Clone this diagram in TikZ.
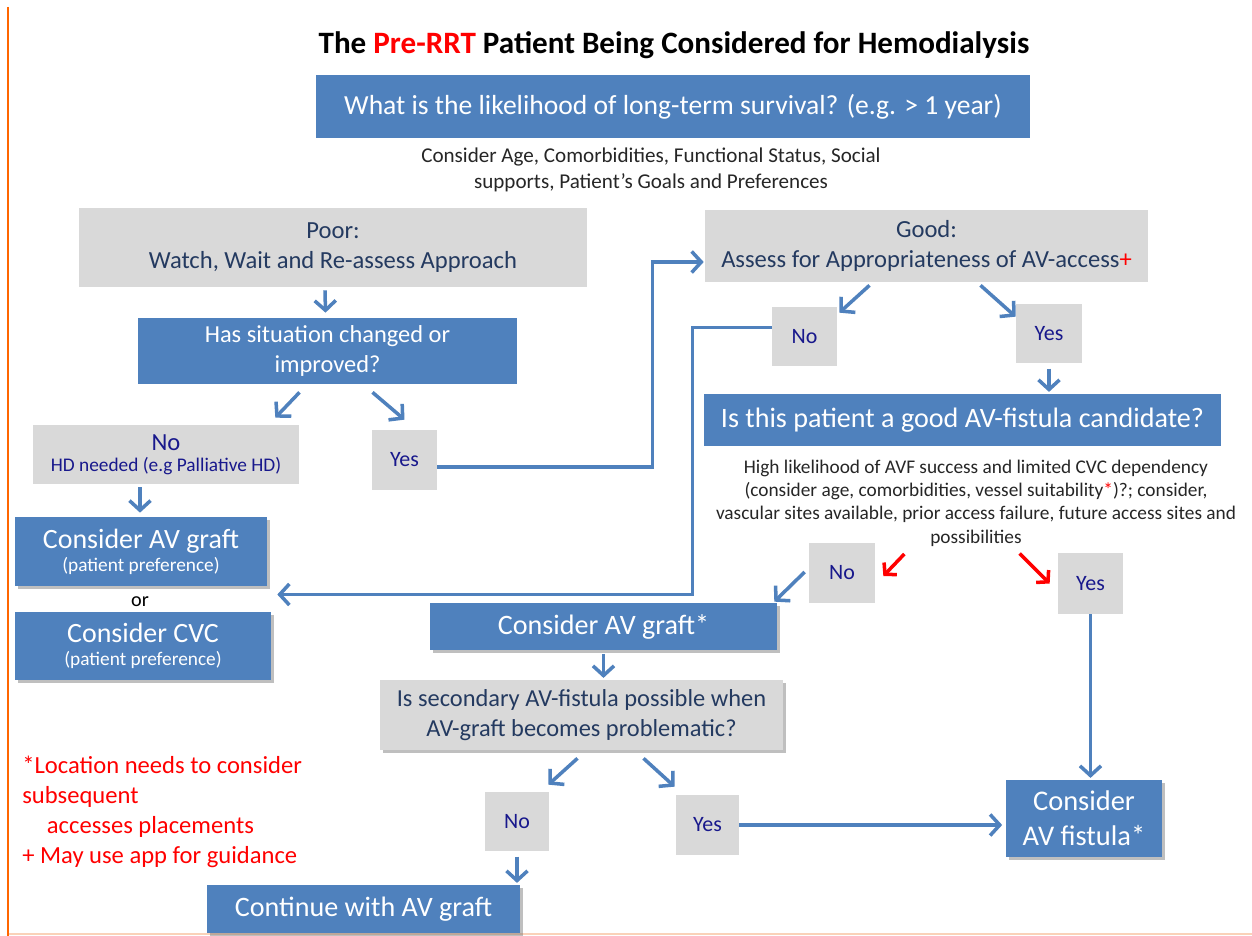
\documentclass[tikz,border=0pt]{standalone}
\usepackage{fontspec}
\setmainfont{Carlito}
\usetikzlibrary{arrows.meta,calc,shadows}
\definecolor{bx}{RGB}{79,129,189}
\definecolor{gr}{RGB}{217,217,217}
\definecolor{slate}{RGB}{36,58,96}
\definecolor{navy}{RGB}{24,24,140}
\definecolor{org}{RGB}{255,102,0}
\definecolor{peach}{RGB}{250,210,185}
\newcommand{\fsz}[1]{\fontsize{#1}{18}\selectfont}
\begin{document}
\begin{tikzpicture}[x=0.02cm,y=-0.02cm,
  bluebox/.style={fill=bx, text=white, inner sep=0pt, align=center},
  graybox/.style={fill=gr, text=slate, inner sep=0pt, align=center},
  ynbox/.style={fill=gr, text=navy, inner sep=0pt, align=center, font=\fontsize{12.5}{15}\selectfont},
  shad/.style={drop shadow={shadow xshift=1.8pt,shadow yshift=-1.8pt,opacity=0.45,fill=black!55}},
  arr/.style={draw=bx, line width=2pt, -{Straight Barb[length=5.5pt,width=12pt]}},
  rarr/.style={draw=red, line width=2pt, -{Straight Barb[length=4.5pt,width=10pt]}},
  plain/.style={inner sep=0pt, align=center}]
\useasboundingbox (0,0) rectangle (1252,936);
\fill[white] (0,0) rectangle (1252,936);
\draw[org, line width=1.7pt] (8,7) -- (8,936);
\draw[peach, line width=1pt] (9,934) -- (1252,934);

% title
\node[plain, font=\bfseries\fontsize{17.7}{21}\selectfont] (title) at (674,45) {The \textcolor{red}{Pre-RRT} Patient Being Considered for Hemodialysis};

\node[bluebox, minimum width=14.28cm, minimum height=1.26cm, font=\fsz{15.7}] (q1) at (673,106.5) {What is the likelihood of long-term survival? (e.g. > 1 year)};
\node[plain, text=black!85, font=\fontsize{12}{15}\selectfont] (consider) at (651,170) {Consider Age, Comorbidities, Functional Status, Social\\supports, Patient’s Goals and Preferences};

\node[graybox, minimum width=10.16cm, minimum height=1.58cm, font=\fontsize{14}{17}\selectfont] (poor) at (333,247.5) {Poor:\\Watch, Wait and Re-assess Approach};
\node[graybox, minimum width=8.86cm, minimum height=1.44cm, font=\fontsize{14}{17}\selectfont] (good) at (926.5,246) {Good:\\Assess for Appropriateness of AV-access\textcolor{red}{+}};

\node[bluebox, minimum width=7.58cm, minimum height=1.32cm, font=\fontsize{13.9}{17}\selectfont] (has) at (327.5,351) {Has situation changed or\\improved?};

\node[ynbox, minimum width=5.32cm, minimum height=1.18cm, font=\fontsize{11}{13}\selectfont] (noL) at (166,454.5) {{\fontsize{14}{16}\selectfont No}\\[-1pt]HD needed (e.g Palliative HD)};
\node[ynbox, minimum width=1.3cm, minimum height=1.2cm] (yesL) at (404.5,460) {Yes};

\node[bluebox, shad, minimum width=5.04cm, minimum height=1.38cm, font=\fontsize{11}{13}\selectfont] (avgL) at (141,551.5) {{\fontsize{15.9}{18}\selectfont Consider AV graft}\\(patient preference)};
\node[plain, font=\fontsize{11.5}{13}\selectfont] (or) at (140,602) {or};
\node[bluebox, shad, minimum width=5.12cm, minimum height=1.36cm, font=\fontsize{11}{13}\selectfont] (cvc) at (143,646) {{\fontsize{15.9}{18}\selectfont Consider CVC}\\(patient preference)};

\node[ynbox, minimum width=1.3cm, minimum height=1.18cm] (noR) at (804.5,336.5) {No};
\node[ynbox, minimum width=1.32cm, minimum height=1.18cm] (yesR) at (1049,333.5) {Yes};

\node[bluebox, minimum width=10.34cm, minimum height=1.04cm, font=\fsz{16}] (fist) at (962.5,420) {Is this patient a good AV-fistula candidate?};
\node[plain, text=black!85, font=\fontsize{11}{13.3}\selectfont] (hl) at (976,503) {High likelihood of AVF success and limited CVC dependency\\(consider age, comorbidities, vessel suitability\textcolor{red}{*})?; consider,\\vascular sites available, prior access failure, future access sites and\\possibilities};

\node[ynbox, minimum width=1.32cm, minimum height=1.2cm] (noR2) at (842,573) {No};
\node[ynbox, minimum width=1.3cm, minimum height=1.22cm] (yesR2) at (1090.5,583.5) {Yes};

\node[bluebox, shad, minimum width=6.94cm, minimum height=0.94cm, font=\fsz{16}] (avg2) at (603.5,626.5) {Consider AV graft*};
\node[graybox, shad, minimum width=8.06cm, minimum height=1.4cm, font=\fontsize{13.9}{17}\selectfont] (sec) at (581.5,715) {Is secondary AV-fistula possible when\\AV-graft becomes problematic?};

\node[ynbox, minimum width=1.28cm, minimum height=1.18cm] (no3) at (517,821.5) {No};
\node[ynbox, minimum width=1.26cm, minimum height=1.2cm] (yes3) at (707.5,825) {Yes};

\node[bluebox, shad, minimum width=6.26cm, minimum height=0.96cm, font=\fsz{16}] (cont) at (363.5,909) {Continue with AV graft};
\node[bluebox, shad, minimum width=3.12cm, minimum height=1.54cm, font=\fontsize{16.2}{20}\selectfont] (avf) at (1084,818.5) {Consider\\AV fistula*};

\node[plain, text=red, align=left, anchor=north west, font=\fontsize{14}{17}\selectfont] (notes) at (22,756) {*Location needs to consider\\subsequent\\\hspace*{1em}accesses placements\\+ May use app for guidance};

% connectors
\draw[arr] ($(poor.south)+(-8,3)$) -- ($(has.north)+(-2,-5)$);
\draw[arr] ($(has.south)+(-28,8)$) -- ($(noL.north east)+(-24,-7)$);
\draw[arr] ($(has.south)+(45,8)$) -- ($(yesL.north)+(0,-10)$);
\draw[arr] ($(noL.south)+(-26,3)$) -- ($(avgL.north)+(-1,-4)$);
\draw[arr] ($(yesL.east)+(0,7)$) -- ++(215,0) |- ($(good.west)+(-1,16)$);
\draw[arr] ($(good.south)+(-57,3)$) -- ($(noR.north east)+(2,6)$);
\draw[arr] ($(good.south)+(54,3)$) -- ($(yesR.north west)+(0,13)$);
\draw[arr, shorten <=3pt, shorten >=1pt] (yesR.south) -- (yesR.south |- fist.north);
\draw[arr] ($(noR.west)+(0,-9)$) -- ++(-79,0) |- ($(avgL.east)+(10,43)$);
\draw[rarr] ($(noR2.east)+(29,-19)$) -- ($(noR2.east)+(8,3)$);
\draw[rarr] ($(yesR2.west)+(-38,-30)$) -- ($(yesR2.west)+(-8,0)$);
\draw[arr] ($(noR2.west)+(-4,-1)$) -- ($(avg2.north east)+(-3,-1)$);
\draw[arr, shorten <=0pt, shorten >=1pt] (yesR2.south) -- (yesR2.south |- avf.north);
\draw[arr, shorten <=2pt, shorten >=1pt] (avg2.south) -- (avg2.south |- sec.north);
\draw[arr] ($(sec.south)+(-4,8)$) -- ($(no3.north east)+(-1,-7)$);
\draw[arr] ($(sec.south)+(62,8)$) -- ($(yes3.north west)+(-1,-8)$);
\draw[arr, shorten <=3pt, shorten >=1pt] (no3.south) -- (no3.south |- cont.north);
\draw[arr, shorten >=2pt] (yes3.east) -- (yes3.east -| avf.west);
\end{tikzpicture}
\end{document}
